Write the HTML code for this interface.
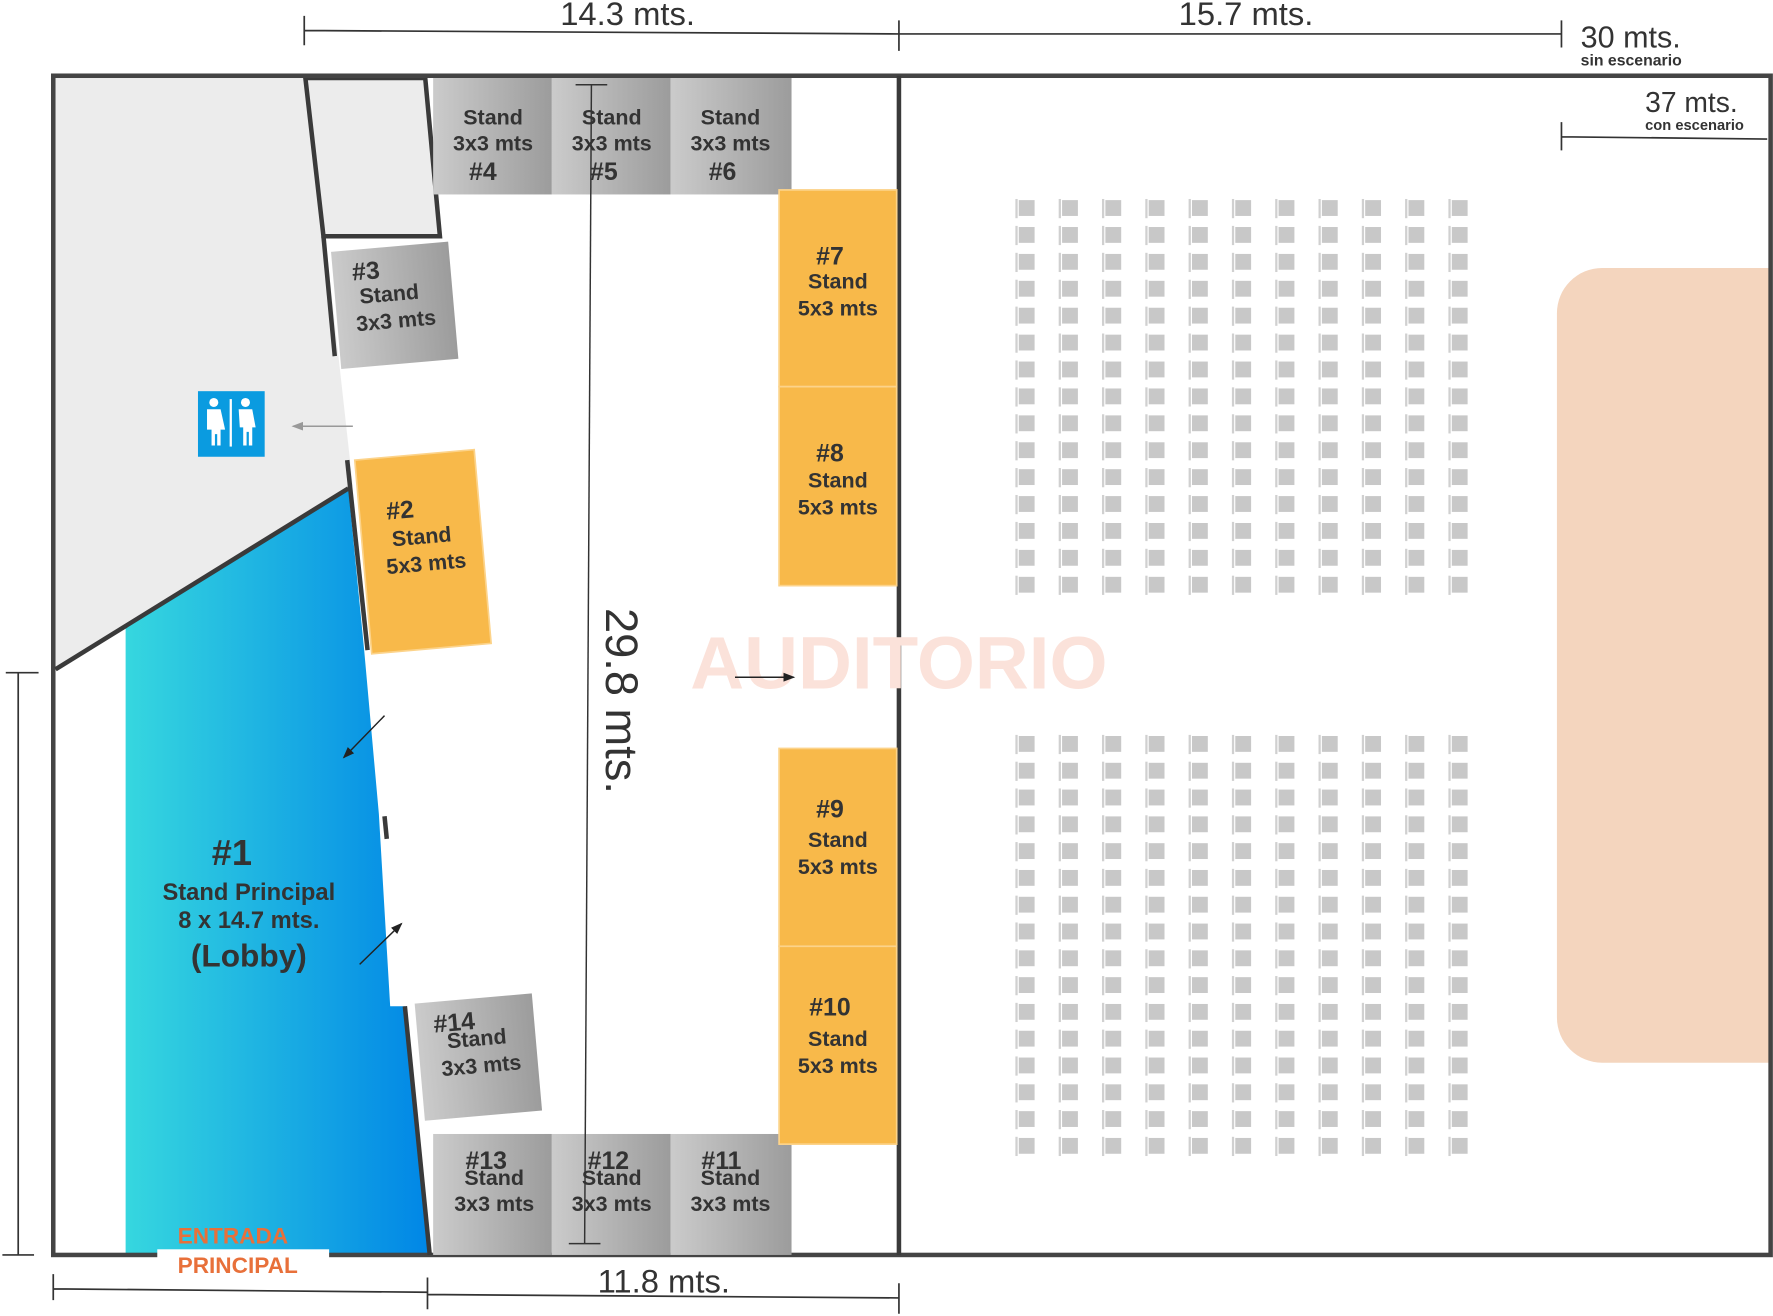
<!DOCTYPE html>
<html><head><meta charset="utf-8"><style>html,body{margin:0;padding:0;background:#fff}svg{display:block}text{font-family:"Liberation Sans",sans-serif}</style></head><body>
<svg width="1773" height="1316" viewBox="0 0 1568 1164" xmlns="http://www.w3.org/2000/svg" xmlns:xlink="http://www.w3.org/1999/xlink">
<defs>
<linearGradient id="gr" x1="0" x2="1" y1="0" y2="0"><stop offset="0" stop-color="#cbcbcb"/><stop offset="1" stop-color="#9c9c9c"/></linearGradient>
<linearGradient id="bl" x1="0" x2="1" y1="0" y2="0"><stop offset="0" stop-color="#36d7df"/><stop offset="1" stop-color="#0086e6"/></linearGradient>
<marker id="ah" markerWidth="8" markerHeight="8" refX="7" refY="4" orient="auto"><path d="M0,1 L8,4 L0,7 z" fill="#222"/></marker>
<marker id="ahg" markerWidth="8" markerHeight="8" refX="7" refY="4" orient="auto"><path d="M0,1 L8,4 L0,7 z" fill="#999"/></marker>
<g id="s"><rect x="0" y="0" width="2" height="17" fill="#d0d0d0"/><rect x="3" y="1" width="14" height="14" fill="#c8c8c8"/></g>
<g id="row"><use xlink:href="#s" x="0"/><use xlink:href="#s" x="38.3"/><use xlink:href="#s" x="76.6"/><use xlink:href="#s" x="114.9"/><use xlink:href="#s" x="153.2"/><use xlink:href="#s" x="191.5"/><use xlink:href="#s" x="229.8"/><use xlink:href="#s" x="268.1"/><use xlink:href="#s" x="306.4"/><use xlink:href="#s" x="344.7"/><use xlink:href="#s" x="383"/></g>
</defs>
<g fill="none" stroke="#333" stroke-width="1.5">
<path d="M269,27 L795,30 M269,14 V40 M795,18 V45 M795,30 L1381,30 M1381,18 V42 M1381,121 L1563,123 M1381,108 V133"/>
<path d="M16,595 V1110 M5,595 H34 M2,1110 H30"/>
<path d="M47,1140 L378,1143 M47,1127 V1150 M378,1130 V1158 M378,1145 L795,1148 M795,1135 V1162"/>
</g>
<g fill="#333" font-size="29"><text x="555" y="22" text-anchor="middle">14.3 mts.</text><text x="1102" y="22" text-anchor="middle">15.7 mts.</text><text x="587" y="1143" text-anchor="middle">11.8 mts.</text>
<text x="1398" y="42" font-size="27">30 mts.</text><text x="1398" y="58" font-size="14" font-weight="bold">sin escenario</text>
<text x="1455" y="99" font-size="25">37 mts.</text><text x="1455" y="115" font-size="13" font-weight="bold">con escenario</text></g>
<polygon points="49,69 272,69 312,430 49,592" fill="#ececec"/>
<polygon points="111,553 308,432 322,575 335,720 345,890 358,890 380,1110 111,1110" fill="url(#bl)"/>
<polygon points="270,69 376,69 389,209 286,209" fill="#ececec" stroke="#3a3a3a" stroke-width="4"/>
<path d="M1417,237 H1566 V940 H1417 A40,40 0 0 1 1377,900 V277 A40,40 0 0 1 1417,237 z" fill="#f4d5be"/>
<g transform="translate(898,176)">
<use xlink:href="#row" y="0"/><use xlink:href="#row" y="23.8"/><use xlink:href="#row" y="47.6"/><use xlink:href="#row" y="71.4"/><use xlink:href="#row" y="95.2"/><use xlink:href="#row" y="119"/><use xlink:href="#row" y="142.8"/><use xlink:href="#row" y="166.6"/><use xlink:href="#row" y="190.4"/><use xlink:href="#row" y="214.2"/><use xlink:href="#row" y="238"/><use xlink:href="#row" y="261.8"/><use xlink:href="#row" y="285.6"/><use xlink:href="#row" y="309.4"/><use xlink:href="#row" y="333.2"/>
</g>
<g transform="translate(898,650)">
<use xlink:href="#row" y="0"/><use xlink:href="#row" y="23.7"/><use xlink:href="#row" y="47.4"/><use xlink:href="#row" y="71.1"/><use xlink:href="#row" y="94.8"/><use xlink:href="#row" y="118.5"/><use xlink:href="#row" y="142.2"/><use xlink:href="#row" y="165.9"/><use xlink:href="#row" y="189.6"/><use xlink:href="#row" y="213.3"/><use xlink:href="#row" y="237"/><use xlink:href="#row" y="260.7"/><use xlink:href="#row" y="284.4"/><use xlink:href="#row" y="308.1"/><use xlink:href="#row" y="331.8"/><use xlink:href="#row" y="355.5"/>
</g>
<rect x="47" y="67" width="1519" height="1043" fill="none" stroke="#444" stroke-width="4"/>
<g stroke="#3a3a3a" stroke-width="4"><line x1="795" y1="67" x2="795" y2="1110"/><line x1="286" y1="209" x2="296" y2="315"/><line x1="307" y1="407" x2="325" y2="575"/><line x1="340" y1="722" x2="342" y2="742"/><line x1="358" y1="890" x2="380" y2="1110"/><line x1="49" y1="592" x2="308" y2="432"/></g>
<rect x="139" y="1105" width="152" height="16" fill="#fff"/>
<g font-weight="bold" fill="#e8703a" font-size="20"><text x="157" y="1100">ENTRADA</text><text x="157" y="1126">PRINCIPAL</text></g>
<g fill="#333" font-weight="bold" text-anchor="middle"><text x="205" y="765" font-size="32">#1</text><text x="220" y="796" font-size="21">Stand Principal</text><text x="220" y="821" font-size="21">8 x 14.7 mts.</text><text x="220" y="855" font-size="28">(Lobby)</text></g>
<g font-weight="bold" fill="#333" font-size="19" text-anchor="middle">
<rect x="383" y="69" width="105" height="103" fill="url(#gr)"/><rect x="488" y="69" width="105" height="103" fill="url(#gr)"/><rect x="593" y="69" width="107" height="103" fill="url(#gr)"/>
<text x="436" y="110">Stand</text><text x="436" y="133">3x3 mts</text><text x="427" y="159" font-size="22">#4</text>
<text x="541" y="110">Stand</text><text x="541" y="133">3x3 mts</text><text x="534" y="159" font-size="22">#5</text>
<text x="646" y="110">Stand</text><text x="646" y="133">3x3 mts</text><text x="639" y="159" font-size="22">#6</text>
<rect x="383" y="1003" width="105" height="107" fill="url(#gr)"/><rect x="488" y="1003" width="105" height="107" fill="url(#gr)"/><rect x="593" y="1003" width="107" height="107" fill="url(#gr)"/>
<text x="430" y="1034" font-size="22">#13</text><text x="437" y="1048">Stand</text><text x="437" y="1071">3x3 mts</text>
<text x="538" y="1034" font-size="22">#12</text><text x="541" y="1048">Stand</text><text x="541" y="1071">3x3 mts</text>
<text x="638" y="1034" font-size="22">#11</text><text x="646" y="1048">Stand</text><text x="646" y="1071">3x3 mts</text>
<g transform="rotate(-5 349 270)"><rect x="297" y="218" width="104" height="104" fill="url(#gr)"/><text x="314" y="245" text-anchor="start" font-size="22">#3</text><text x="345" y="266">Stand</text><text x="349" y="290">3x3 mts</text></g>
<g transform="rotate(-5 423 935)"><rect x="371" y="883" width="104" height="104" fill="url(#gr)"/><text x="386" y="910" text-anchor="start" font-size="22">#14</text><text x="423" y="925">Stand</text><text x="425" y="949">3x3 mts</text></g>
<g transform="rotate(-5 374 488)"><rect x="321" y="402" width="106" height="172" fill="#f8b94a" stroke="#fcd38a" stroke-width="1.5"/><text x="357" y="457" font-size="22">#2</text><text x="374" y="481">Stand</text><text x="376" y="505">5x3 mts</text></g>
<rect x="689" y="168" width="104" height="174" fill="#f8b94a" stroke="#fcd38a" stroke-width="1.5"/><rect x="689" y="342" width="104" height="176" fill="#f8b94a" stroke="#fcd38a" stroke-width="1.5"/>
<rect x="689" y="662" width="104" height="175" fill="#f8b94a" stroke="#fcd38a" stroke-width="1.5"/><rect x="689" y="837" width="104" height="175" fill="#f8b94a" stroke="#fcd38a" stroke-width="1.5"/>
<text x="734" y="234" font-size="22">#7</text><text x="741" y="255">Stand</text><text x="741" y="279">5x3 mts</text>
<text x="734" y="408" font-size="22">#8</text><text x="741" y="431">Stand</text><text x="741" y="455">5x3 mts</text>
<text x="734" y="723" font-size="22">#9</text><text x="741" y="749">Stand</text><text x="741" y="773">5x3 mts</text>
<text x="734" y="898" font-size="22">#10</text><text x="741" y="925">Stand</text><text x="741" y="949">5x3 mts</text>
</g>
<text x="795" y="609" font-size="66" font-weight="bold" fill="#fbe2da" text-anchor="middle">AUDITORIO</text>
<g stroke="#333" stroke-width="1.3"><line x1="523" y1="75" x2="517" y2="1100"/><line x1="509" y1="75" x2="537" y2="75"/><line x1="503" y1="1100" x2="531" y2="1100"/></g>
<text transform="translate(536,620) rotate(90)" font-size="40" fill="#333" text-anchor="middle">29.8 mts.</text>
<g stroke="#222" stroke-width="1.3" marker-end="url(#ah)"><line x1="650" y1="599" x2="702" y2="599"/><line x1="340" y1="633" x2="304" y2="670"/><line x1="318" y1="853" x2="355" y2="817"/></g>
<line x1="312" y1="377" x2="259" y2="377" stroke="#999" stroke-width="1.3" marker-end="url(#ahg)"/>
<rect x="175" y="346" width="59" height="58" fill="#0a9be0"/>
<g fill="#fff"><circle cx="189" cy="356" r="4"/><path d="M183,362 h12 l4,18 h-4 v14 h-3 v-10 h-2 v10 h-3 v-14 h-4 z"/><rect x="203" y="353" width="2" height="42"/><circle cx="217" cy="356" r="4"/><path d="M211,362 h12 l3,16 h-3 v16 h-3 v-12 h-2 v12 h-3 v-16 h-3 z"/></g>
</svg>
</body></html>
